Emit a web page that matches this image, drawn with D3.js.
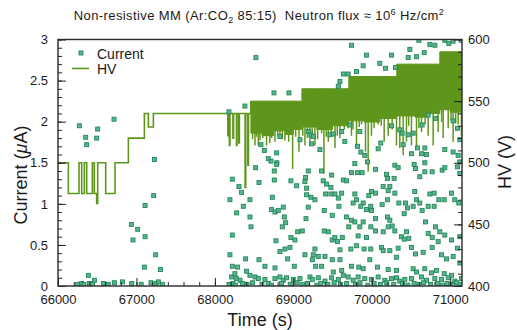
<!DOCTYPE html>
<html>
<head>
<meta charset="utf-8">
<script src="https://cdn.jsdelivr.net/npm/d3@7"></script>
<style>
  body { margin: 0; background: #fff; }
  svg text { font-family: "Liberation Sans", Arial, sans-serif; fill: #1a1a1a; }
</style>
</head>
<body>
<svg id="chart" width="517" height="330"></svg>
<script>
// HV set-point (V), step-wise, before the noisy part of the run
const hvTime = [66000, 66132, 66268, 66302, 66336, 66366, 66438, 66463, 66493, 66506, 66608, 66727, 66897, 67101, 67152, 67216,
  68165, 68172, 68185, 68192, 68230, 68238, 68275, 68282, 68305, 68312, 68385, 68393, 68420, 68428, 68459];
const hvVolt = [500, 475, 500, 475, 500, 475, 500, 475, 467, 500, 475, 500, 520, 540, 529, 540,
  522, 540, 514, 540, 520, 540, 514, 540, 516, 540, 480, 540, 498, 540, 550];

// dense HV band: top level per step and floor of the solid part
const bandTime = [68459, 69109, 69707, 70319, 70867];
const bandTop = [550, 560, 570, 580, 590];
const floorTime = [68459, 68600, 68750, 68900, 69000, 69109, 69300, 69500, 69707, 69900, 70100, 70319, 70550, 70700, 70867, 71000, 71150];
const floorVolt = [524, 522, 526, 523, 527, 529, 527, 530, 534, 533, 536, 538, 537, 540, 543, 541, 541];

// HV drops reaching below the band
const spikeTime = [68511, 68553, 68574, 68659, 68723, 68766, 68829, 68893, 68991, 69072, 69148, 69212, 69275, 69390, 69446, 69531, 69594,
  69698, 69741, 69805, 69869, 69920, 69954, 69996, 70081, 70158, 70209, 70315, 70357, 70400, 70442, 70506, 70570, 70634, 70719, 70782, 70846, 70910, 70974, 71037, 71101, 71143,
  68480, 68530, 68610, 68700, 68800, 68860, 68940, 69030, 69120, 69180, 69240, 69310, 69360, 69420, 69480, 69560, 69650,
  69760, 69840, 70030, 70120, 70260, 70470, 70600, 70680, 70890, 71010, 71070];
const spikeVolt = [514, 514, 518, 514, 520, 517, 522, 518, 495, 509, 514, 517, 514, 491, 517, 512, 520,
  528, 522, 514, 531, 509, 493, 522, 531, 517, 522, 514, 512, 506, 517, 514, 512, 525, 522, 514, 525, 520, 528, 517, 531, 522,
  519, 521, 520, 516, 521, 519, 517, 521, 522, 520, 523, 519, 524, 521, 525, 522, 527,
  527, 529, 528, 530, 527, 530, 528, 531, 533, 534, 532];

// current measurements (time s, current uA)
const currentPts = [
  [66272,1.95],[66353,1.81],[66366,1.72],[66506,1.91],[66493,1.80],[66714,2.03],[67229,1.54],[67220,1.10],[67110,0.98],
  [66935,0.75],[67016,0.69],[66956,0.56],[67110,0.60],[67245,0.38],[67101,0.23],[67305,0.20],[66387,0.13],[66464,0.07],
  [66250,0.02],[66302,0.03],[66330,0.02],[66400,0.03],[66440,0.02],[66578,0.03],[66640,0.02],[66719,0.04],[66821,0.05],
  [66940,0.03],[67060,0.02],[67186,0.04],[67250,0.03],[67280,0.05],[67330,0.02],
  [68523,2.78],[68179,2.12],[68383,2.19],[68753,2.35],[68944,2.35],[69637,2.58],[69594,2.49],[69573,2.43],[68587,1.72],
  [68630,1.65],[68681,1.55],[68787,1.62],[68715,1.52],[68790,1.50],[68829,1.82],[69084,1.78],[69190,1.88],[69224,1.84],
  [69254,1.82],[69233,1.73],[69339,1.66],[69467,1.84],[69509,1.85],[69616,1.88],
  [69741,2.93],[69932,2.81],[70251,2.81],[70485,2.88],[70600,2.99],[70740,2.94],[70804,2.93],[70668,2.84],[70570,2.79],
  [70464,2.78],[70982,2.95],[71037,2.98],[70931,2.99],[71140,2.99],[70102,2.71],[70175,2.65],[70302,2.66],[69890,2.68],
  [69698,2.58],[69805,2.61],[69720,1.96],[69656,1.76],[69847,1.88],[69818,1.70],[69860,1.63],[69911,1.59],[69945,1.51],
  [70081,1.67],[70115,1.74],[70251,1.95],[70357,1.90],[70387,1.86],[70464,1.84],[70527,1.86],[70642,1.96],[70719,2.08],
  [70812,2.04],[70583,1.68],[70634,1.61],[70676,1.68],[70697,1.60],[70506,1.61],[71037,2.01],[71093,1.92],[71122,1.78],
  [70931,1.66],[71037,1.63],[71101,1.59],[71122,1.51],[70400,1.72],
  [68222,1.30],[68307,1.21],[68340,1.14],[68192,1.05],[68277,0.89],[68362,0.97],[68447,1.05],[68447,0.84],[68460,0.72],
  [68222,0.62],[68192,0.38],[68519,1.44],[68562,1.26],[68757,1.40],[68757,1.29],[68787,1.48],[68732,1.08],[68723,0.93],
  [68766,0.90],[68808,0.92],[68872,0.96],[68885,0.84],[68902,0.77],[68859,0.72],[68969,1.28],[69042,1.22],[69148,1.27],
  [69169,1.19],[69190,1.40],[69156,1.32],[69169,1.11],[69224,1.08],[69275,1.05],[69190,0.96],[69161,0.82],[69360,1.40],
  [69381,1.28],[69424,1.24],[69479,1.20],[69488,1.35],[69412,1.12],[69479,1.12],[69530,1.12],[69394,0.92],[69496,0.86],
  [69573,1.07],[69616,1.13],[69637,1.29],[69581,0.97],[69114,0.67],[69055,0.66],[68969,0.59],[69020,0.56],[68957,0.47],
  [68778,0.55],[68893,0.45],[68829,0.42],[68927,0.33],[69394,0.67],[69445,0.66],[69496,0.56],[69530,0.59],[69564,0.54],
  [69624,0.59],[69594,0.44],[69275,0.45],[69254,0.38],[69242,0.32],[69148,0.38],[69284,0.24],[69360,0.24],[69318,0.36],
  [69403,0.36],[69496,0.32],[69594,0.32],[69509,0.17],[69616,0.19],[68392,0.33],[68562,0.32],[68638,0.24],[68766,0.22],
  [69012,0.24],[68222,0.24],[68290,0.23],[68404,0.18],[68447,0.13],[68511,0.11],[68553,0.09],
  [68213,0.11],[68255,0.15],[68277,0.09],[68320,0.07],[68638,0.08],[68766,0.09],[68829,0.11],[68872,0.07],[68914,0.10],
  [68999,0.08],[69084,0.09],[69212,0.11],[69242,0.08],[69318,0.10],[69403,0.06],[69488,0.10],[69573,0.08],[69637,0.13],
  [69784,1.49],[69741,1.38],[69817,1.38],[69877,1.38],[70047,1.42],[70187,1.36],[70294,1.47],[70336,1.44],[70200,1.31],
  [70285,1.31],[70540,1.48],[70557,1.43],[70676,1.50],[70676,1.39],[70612,1.33],[70770,1.39],[70897,1.41],[70931,1.44],
  [71093,1.45],[71122,1.37],[69677,1.28],[70145,1.21],[70230,1.21],[70209,1.16],[70294,1.13],[69962,1.10],[69996,1.15],
  [70047,1.13],[69784,1.12],[69805,1.05],[69762,1.01],[69890,1.01],[69860,0.97],[69932,0.93],[69987,0.97],[69996,0.92],
  [70132,0.99],[70200,1.05],[70345,1.01],[70429,1.01],[70455,0.95],[70413,0.88],[70548,1.15],[70570,1.05],[70612,1.01],
  [70642,0.92],[70527,0.97],[70740,1.12],[70795,1.13],[70855,1.05],[70923,1.05],[70719,0.97],[70795,0.97],[71016,1.13],
  [71058,1.05],[71109,1.01],[69677,0.84],[69741,0.80],[69784,0.78],[69707,0.72],[69847,0.72],[69890,0.78],[70047,0.82],
  [69988,0.72],[70047,0.67],[70200,0.84],[70230,0.80],[70260,0.73],[70209,0.72],[70145,0.66],[70294,0.67],[70442,0.66],
  [70379,0.60],[70413,0.57],[70472,0.58],[70685,0.78],[70719,0.64],[70770,0.59],[70812,0.72],[70867,0.66],[70931,0.62],
  [70846,0.54],[71016,0.56],[71122,0.60],[71093,0.46],[69826,0.61],[69932,0.59],[69733,0.45],[69805,0.49],[69902,0.45],
  [69987,0.45],[70124,0.47],[70145,0.43],[70230,0.43],[70315,0.35],[70336,0.46],[70506,0.47],[70557,0.39],[70655,0.41],
  [70770,0.47],[70889,0.38],[70953,0.33],[71037,0.36],[69741,0.24],[69834,0.23],[69890,0.21],[70072,0.23],[69975,0.32],
  [70209,0.20],[70315,0.19],[70527,0.21],[70570,0.17],[70676,0.21],[70761,0.16],[70825,0.19],[70923,0.15],[71016,0.13],
  [71122,0.28],
  [69699,0.11],[69762,0.07],[69826,0.11],[69911,0.09],[69996,0.08],[70081,0.11],[70166,0.07],[70251,0.09],[70315,0.10],
  [70357,0.06],[70421,0.08],[70506,0.09],[70634,0.11],[70697,0.07],[70804,0.09],[70889,0.08],[70974,0.10],[71058,0.06],
  [71143,0.09],
  [68180,0.02],[68230,0.03],[68260,0.01],[68350,0.03],[68410,0.02],[68480,0.04],[68600,0.02],[68680,0.03],[68720,0.01],
  [68850,0.03],[68960,0.02],[69050,0.04],[69120,0.02],[69180,0.03],[69300,0.01],[69350,0.03],[69440,0.02],[69520,0.04],
  [69600,0.02],[69680,0.03],[69790,0.02],[69850,0.04],[69950,0.01],[70030,0.03],[70110,0.02],[70190,0.04],[70280,0.02],
  [70390,0.03],[70460,0.01],[70540,0.03],[70600,0.02],[70660,0.04],[70750,0.02],[70840,0.03],[70900,0.01],[70960,0.03],
  [71010,0.02],[71080,0.04],[71130,0.02]
];

const xMajor = [66000, 67000, 68000, 69000, 70000, 71000];
const iMajor = [0, 0.5, 1, 1.5, 2, 2.5, 3];
const vMajor = [400, 450, 500, 550, 600];

const margin = {left: 58, right: 462, top: 39.5, bottom: 286};
const hvColor = '#5e961c';
const svg = d3.select('#chart');

const x = d3.scaleLinear().domain([66000, 71150]).range([margin.left, margin.right]);
const yI = d3.scaleLinear().domain([0, 3]).range([margin.bottom, margin.top]);
const yV = d3.scaleLinear().domain([400, 600]).range([margin.bottom, margin.top]);

svg.append('clipPath').attr('id', 'plot-clip')
  .append('rect')
  .attr('x', margin.left).attr('y', margin.top)
  .attr('width', margin.right - margin.left).attr('height', margin.bottom - margin.top);

const plot = svg.append('g').attr('clip-path', 'url(#plot-clip)');

// HV: early step line
const hvData = hvTime.map(function(t, i) { return [t, hvVolt[i]]; });
plot.append('path')
  .datum(hvData)
  .attr('d', d3.line().x(function(d) { return x(d[0]); }).y(function(d) { return yV(d[1]); }).curve(d3.curveStepAfter))
  .attr('fill', 'none')
  .attr('stroke', hvColor)
  .attr('stroke-width', 1.6);

// HV: noisy band
const topAt = function(t) {
  const i = d3.bisectRight(bandTime, t) - 1;
  return bandTop[Math.max(i, 0)];
};
const bandData = floorTime.map(function(t, i) { return {t: t, lo: floorVolt[i], hi: topAt(t)}; });
bandTime.forEach(function(t) {
  bandData.push({t: t - 0.01, lo: floorVolt[d3.bisectRight(floorTime, t) - 1], hi: topAt(t - 1)});
});
bandData.sort(function(a, b) { return a.t - b.t; });
plot.append('path')
  .datum(bandData)
  .attr('d', d3.area().x(function(d) { return x(d.t); })
    .y0(function(d) { return yV(d.lo); }).y1(function(d) { return yV(d.hi); }).curve(d3.curveStepAfter))
  .attr('fill', hvColor)
  .attr('stroke', hvColor)
  .attr('stroke-width', 1);

plot.selectAll('.hv-spike')
  .data(spikeTime.map(function(t, i) { return [t, spikeVolt[i]]; }))
  .enter()
  .append('line')
  .attr('class', 'hv-spike')
  .attr('x1', function(d) { return x(d[0]); })
  .attr('x2', function(d) { return x(d[0]); })
  .attr('y1', function(d) { return yV(topAt(d[0])); })
  .attr('y2', function(d) { return yV(d[1]); })
  .attr('stroke', hvColor)
  .attr('stroke-width', 1.5);

// current points
plot.selectAll('.cur-pt')
  .data(currentPts)
  .enter()
  .append('rect')
  .attr('class', 'cur-pt')
  .attr('x', function(d) { return x(d[0]) - 2; })
  .attr('y', function(d) { return yI(d[1]) - 2; })
  .attr('width', 4)
  .attr('height', 4)
  .attr('fill', '#58b68b')
  .attr('stroke', '#23865a')
  .attr('stroke-width', 0.9);

// axes
const fmtX = d3.format('d');
svg.append('g')
  .attr('transform', 'translate(0,' + margin.bottom + ')')
  .call(d3.axisBottom(x).tickValues(d3.range(66000, 71150, 200)).tickSize(-4).tickFormat(''))
  .call(function(g) { g.select('.domain').remove(); });
svg.append('g')
  .attr('class', 'x-axis')
  .attr('transform', 'translate(0,' + margin.bottom + ')')
  .call(d3.axisBottom(x).tickValues(xMajor).tickSize(-8).tickPadding(9).tickFormat(fmtX))
  .call(function(g) { g.select('.domain').remove(); });

svg.append('g')
  .attr('transform', 'translate(' + margin.left + ',0)')
  .call(d3.axisLeft(yI).tickValues(d3.range(0, 3.001, 0.1)).tickSize(-4).tickFormat(''))
  .call(function(g) { g.select('.domain').remove(); });
svg.append('g')
  .attr('class', 'y-axis')
  .attr('transform', 'translate(' + margin.left + ',0)')
  .call(d3.axisLeft(yI).tickValues(iMajor).tickSize(-8).tickPadding(10).tickFormat(function(d) { return String(d); }))
  .call(function(g) { g.select('.domain').remove(); });

svg.append('g')
  .attr('transform', 'translate(' + margin.right + ',0)')
  .call(d3.axisRight(yV).tickValues(d3.range(400, 601, 10)).tickSize(-4).tickFormat(''))
  .call(function(g) { g.select('.domain').remove(); });
svg.append('g')
  .attr('class', 'y-axis')
  .attr('transform', 'translate(' + margin.right + ',0)')
  .call(d3.axisRight(yV).tickValues(vMajor).tickSize(-8).tickPadding(6).tickFormat(fmtX))
  .call(function(g) { g.select('.domain').remove(); });

svg.selectAll('.tick line').attr('stroke', '#222').attr('stroke-width', 1);
svg.selectAll('.tick text').attr('font-size', 13).attr('fill', '#1a1a1a')
  .attr('font-family', '"Liberation Sans", Arial, sans-serif');

// frame
svg.append('rect')
  .attr('x', margin.left).attr('y', margin.top)
  .attr('width', margin.right - margin.left).attr('height', margin.bottom - margin.top)
  .attr('fill', 'none')
  .attr('stroke', '#2a2a2a')
  .attr('stroke-width', 1.4);

// axis titles
svg.append('text')
  .attr('x', (margin.left + margin.right) / 2).attr('y', 326)
  .attr('text-anchor', 'middle').attr('font-size', 18)
  .text('Time (s)');

const curTitle = svg.append('text')
  .attr('transform', 'translate(27,175) rotate(-90)')
  .attr('text-anchor', 'middle').attr('font-size', 18);
curTitle.append('tspan').text('Current (');
curTitle.append('tspan').attr('font-style', 'italic').text('μ');
curTitle.append('tspan').text('A)');

svg.append('text')
  .attr('transform', 'translate(511,162) rotate(-90)')
  .attr('text-anchor', 'middle').attr('font-size', 18)
  .text('HV (V)');

// title
const title = svg.append('text')
  .attr('x', 259).attr('y', 20)
  .attr('text-anchor', 'middle').attr('font-size', 13)
  .attr('letter-spacing', 0.4)
  .style('white-space', 'pre');
title.append('tspan').text('Non-resistive MM (Ar:CO');
title.append('tspan').attr('font-size', 9).attr('dy', 3).text('2');
title.append('tspan').attr('dy', -3).text(' 85:15)  Neutron flux ≈ 10');
title.append('tspan').attr('font-size', 9).attr('dy', -5).text('6');
title.append('tspan').attr('dy', 5).text(' Hz/cm');
title.append('tspan').attr('font-size', 9).attr('dy', -5).text('2');

// legend
svg.append('rect')
  .attr('x', 79).attr('y', 51).attr('width', 4).attr('height', 4)
  .attr('fill', '#58b68b').attr('stroke', '#23865a').attr('stroke-width', 0.9);
svg.append('text').attr('x', 97).attr('y', 59).attr('font-size', 14).text('Current');
svg.append('line')
  .attr('x1', 72).attr('x2', 89).attr('y1', 68.5).attr('y2', 68.5)
  .attr('stroke', hvColor).attr('stroke-width', 1.6);
svg.append('text').attr('x', 97).attr('y', 74).attr('font-size', 14).text('HV');
</script>
</body>
</html>
